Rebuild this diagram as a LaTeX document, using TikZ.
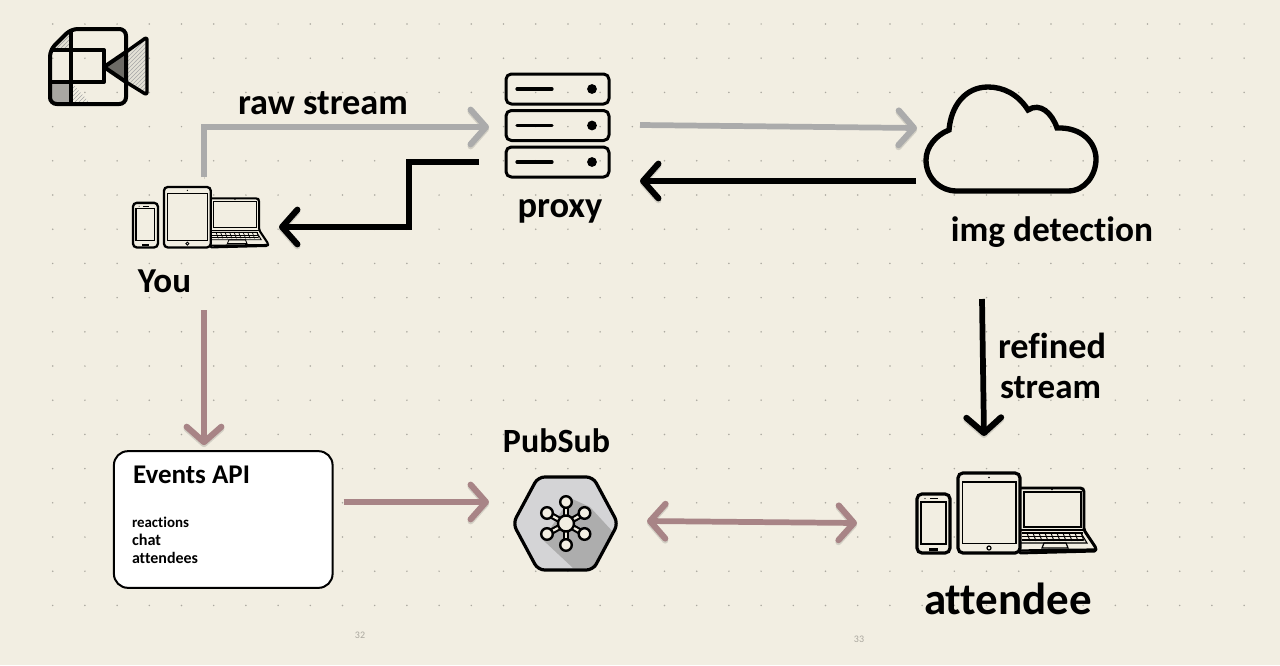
\documentclass[tikz,border=0pt]{standalone}
\usepackage{fontspec}
\usepackage{graphicx}
\setmainfont[Ligatures=NoCommon]{Carlito}
\usetikzlibrary{arrows.meta,patterns}
\definecolor{bgc}{HTML}{F2EEE2}
\definecolor{dotc}{HTML}{ABA89F}
\definecolor{graya}{HTML}{ABABAB}
\definecolor{rosea}{HTML}{A88486}
\definecolor{hexa}{HTML}{D4D4D6}
\definecolor{hexb}{HTML}{ADADAD}
\tikzset{
  x=.75pt,y=-.75pt,
  barb/.style={},
  flow/.style={line width=4.3pt,line join=miter,
    -{Straight Barb[length=11.5pt,width=26pt,line width=4.6pt,round]},
    preaction={draw=black,opacity=.13,transform canvas={yshift=-1.5pt}}},
  flowboth/.style={flow,{Straight Barb[length=11.5pt,width=26pt,line width=4.6pt,round]}-{Straight Barb[length=11.5pt,width=26pt,line width=4.6pt,round]}},
  ghost/.style={inner sep=0pt,outer sep=0pt,draw=none,fill=none},
  hand/.style={inner sep=0pt,outer sep=0pt,font=\bfseries,text=black},
  small/.style={inner sep=0pt,outer sep=0pt,font=\bfseries,text=black,anchor=west},
  pageno/.style={inner sep=0pt,font=\fontsize{7.5pt}{8pt}\selectfont,text=dotc},
  icon/.style={draw=black,line width=2.25pt,line join=round},
  hub/.style={draw=black,line width=1.8pt,fill=bgc},
}
% device group: local frame is the attendee group, origin top-left
\newcommand{\devices}[4]{% #1 x, #2 y, #3 scale, #4 line factor
\begin{scope}[shift={(#1,#2)},x=#3*.75pt,y=-#3*.75pt]
  % laptop
  \draw[line width=#4*2.2pt,line join=round,rounded corners=1.2pt,fill=bgc] (104,15) -- (165,15) -- (167,17) -- (167,57) -- (179,75) -- (179,78) -- (102,80) -- (102,15) -- cycle;
  \draw[line width=#4*1.2pt] (107,19) rectangle (164,54);
  \draw[line width=#4*1.1pt] (104,57) -- (167,57);
  \draw[line width=#4*.8pt] (105,60) -- (164,60) -- (170,70) -- (104,70);
  \foreach \yy in {60,63.5,67}{\draw[line width=#4*.9pt] (105,\yy) -- (166,\yy);}
  \foreach \xx in {110,116,...,164}{\draw[line width=#4*.7pt] (\xx,60) -- (\xx+3,68);}
  \draw[line width=#4*.9pt] (127,70) -- (149,70) -- (151,75) -- (125,75) -- cycle;
  \draw[line width=#4*1.7pt] (102,77.5) -- (179,76.5);
  \fill (135,16.5) circle[radius=.9];
  % tablet
  \draw[line width=#4*2.4pt,rounded corners=#3*3.7pt,fill=bgc] (41,0) rectangle (103,80);
  \draw[line width=#4*1.2pt] (45.5,9) rectangle (99,70.5);
  \draw[line width=#4*.9pt] (72,75) circle[radius=2];
  \fill (72,4.5) circle[radius=.9];
  % phone
  \draw[line width=#4*2.4pt,rounded corners=#3*3.7pt,fill=bgc] (0,21) rectangle (33,80);
  \draw[line width=#4*1.2pt] (4,29) rectangle (29,71);
  \draw[line width=#4*.9pt] (13,75.5) rectangle (20,77);
  \draw[line width=#4*.8pt] (13,25.5) -- (21,25.5);
  \fill (8,25.5) circle[radius=.7];
\end{scope}}
\begin{document}
\begin{tikzpicture}
\useasboundingbox (0,0) rectangle (1280,665);
\fill[bgc] (0,0) rectangle (1280,665);
% dot grid
\foreach \i in {0,...,37}{\foreach \j in {0,...,17}{
  \fill[dotc] ({52.7+32.2*\i},{24+34.2*\j}) circle[radius=.85];}}

% video icon
\fill[gray!12!bgc] (50,50) -- (71,29) -- (71,50) -- cycle;
\fill[pattern=north east lines,pattern color=gray!80] (50,50) -- (71,29) -- (71,50) -- cycle;
\fill[gray!65!bgc] (50,82) rectangle (71,103);
\fill[pattern=north east lines,pattern color=gray!70] (71,103) -- (71,82) -- (90,103) -- cycle;
\fill[gray!12!bgc] (126,52) -- (147,37) -- (147,95) -- (126,82) -- cycle;
\fill[pattern=north east lines,pattern color=gray!70] (126,52) -- (147,37) -- (147,95) -- (126,82) -- cycle;
\fill[black!55!bgc] (104,67) -- (126,52) -- (126,82) -- cycle;
\draw[line width=2.6pt,line join=round,rounded corners=2pt] (126,52) -- (147,37) -- (147,95) -- (126,82);
\draw[line width=3pt,line join=round] (126,52) -- (104,67) -- (126,82);
\draw[line width=3pt,line join=round,rounded corners=5pt] (71,29) -- (126,29) -- (126,104) -- (50,104) -- (50,50) -- cycle;
\draw[line width=3pt,line join=round] (71,29) -- (71,103) (50,50) -- (104,50) -- (104,82) -- (50,82);

% devices
\devices{133}{187}{.755}{.72}
\devices{917}{473}{1}{1}
\node[ghost,minimum width=102pt,minimum height=45.75pt] (you) at (201,217.5) {};
\node[ghost,minimum width=134.25pt,minimum height=60.75pt] (attendee) at (1006.5,513.5) {};

% proxy
\node[ghost,minimum width=77.25pt,minimum height=77.25pt] (proxy) at (557.5,125.5) {};
\foreach \yy in {74,110.5,147}{
  \draw[icon,rounded corners=4pt] (506,\yy) rectangle (609,\yy+30);
  \draw[line width=2.4pt,line cap=round] (517,\yy+15) -- (552,\yy+15);
  \fill (592,\yy+15) circle[radius=4.9];
}

% cloud
\node[ghost,minimum width=129.75pt,minimum height=79.5pt] (cloud) at (1011.5,140) {};
\draw[line width=4pt,line join=miter] (957,191) -- (1068,191)
  .. controls (1085,191) and (1096,175) .. (1096,159)
  .. controls (1096,142) and (1081,127) .. (1057,128)
  .. controls (1052,113) and (1040,102) .. (1028,110)
  .. controls (1018,94) and (1003,87) .. (988,87)
  .. controls (965,87) and (951,106) .. (949,130)
  .. controls (936,135) and (926,147) .. (926,160)
  .. controls (926,178) and (940,191) .. (957,191) -- cycle;

% events box
\node[ghost,draw=black,fill=white,line width=1.5pt,rounded corners=10.5pt,minimum width=164pt,minimum height=102.5pt] (events) at (223.25,519.5) {};
\node[small] (evtitle) at (133,475) {\resizebox{87.75pt}{!}{Events API}};
\node[small] (ev1) at (132,522) {\resizebox{42.75pt}{!}{reactions}};
\node[small] (ev2) at (132,540) {\resizebox{21.75pt}{!}{chat}};
\node[small] (ev3) at (132,558) {\resizebox{49.5pt}{!}{attendees}};

% pubsub hexagon
\node[ghost,minimum width=78.75pt,minimum height=69.75pt] (pubsub) at (565.5,523.5) {};
\fill[hexa,rounded corners=5pt] (513,523.5) -- (538,477) -- (593,477) -- (618,523.5) -- (593,570) -- (538,570) -- cycle;
\fill[hexb] (570,498) -- (590,507) -- (613,532) -- (596,568) -- (573,568) -- (543,540) -- cycle;
\draw[line width=2.4pt,line join=round,rounded corners=5pt] (513,523.5) -- (538,477) -- (593,477) -- (618,523.5) -- (593,570) -- (538,570) -- cycle;
\foreach \a/\b in {566/502,584.5/513,584.5/534,566/545,547/534,547/513}{
  \draw[line width=4.8pt] (566,523.5) -- (\a,\b);
  \draw[line width=1.6pt,bgc] (566,523.5) -- (\a,\b);
}
\foreach \a/\b in {566/502,584.5/513,584.5/534,566/545,547/534,547/513}{
  \draw[hub] (\a,\b) circle[radius=5.8];
}
\draw[hub] (566,523.5) circle[radius=8];

% connectors
\draw[flow,graya] ([shift={(3,-10)}]you.north) |- ([shift={(-17,1.5)}]proxy.west);
\draw[flow,graya] ([shift={(31,-.5)}]proxy.east) -- ([shift={(-8,-12)}]cloud.west);
\draw[flow,black] ([shift={(-9,41)}]cloud.west) -- ([shift={(31,55.5)}]proxy.east);
\draw[flow,black] ([shift={(-27,36.5)}]proxy.west) -- ++(-70,0) |- ([shift={(10,9.5)}]you.east);
\draw[flow,rosea] ([shift={(3,62)}]you.south) -- ([shift={(-19.25,-6)}]events.north);
\draw[flow,rosea] ([shift={(11,-17.5)}]events.east) -- ([shift={(-24,-21.5)}]pubsub.west);
\draw[flowboth,rosea] ([shift={(29,-2.5)}]pubsub.east) -- ([shift={(-60,9.5)}]attendee.west);
\draw[flow,black] ([shift={(-29.5,106)}]cloud.south) -- ([shift={(-22.5,-37)}]attendee.north);

% labels
\node[hand] (lraw) at (323,103) {\resizebox{127.5pt}{!}{raw stream}};
\node[hand] (lproxy) at (560,211) {\resizebox{63.75pt}{!}{proxy}};
\node[hand] (lyou) at (164.5,281) {\resizebox{39.75pt}{!}{You}};
\node[hand] (limg) at (1052,232) {\resizebox{151.5pt}{!}{img detection}};
\node[hand] (lref) at (1052,346) {\resizebox{81pt}{!}{refined}};
\node[hand] (lstr) at (1050.5,388) {\resizebox{75.75pt}{!}{stream}};
\node[hand] (lpub) at (556.5,441) {\resizebox{80.25pt}{!}{PubSub}};
\node[hand] (latt) at (1008,599) {\resizebox{126pt}{!}{attendee}};
\node[pageno] (p32) at (360,635) {32};
\node[pageno] (p33) at (859,639) {33};
\end{tikzpicture}
\end{document}
